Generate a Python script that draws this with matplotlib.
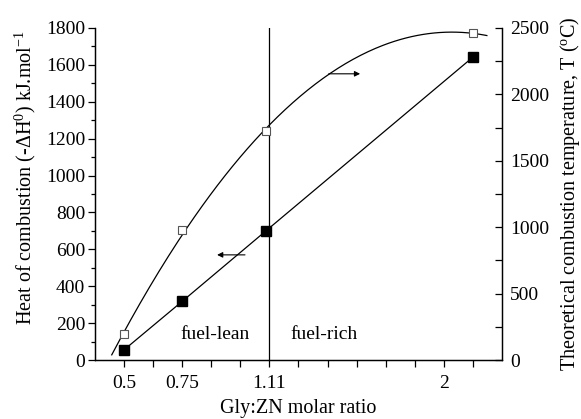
import numpy as np
import matplotlib
matplotlib.use("Agg")
import matplotlib.pyplot as plt
from matplotlib.ticker import MultipleLocator

plt.rcParams['font.family'] = ['Liberation Serif', 'DejaVu Serif']
plt.rcParams['mathtext.fontset'] = 'custom'
plt.rcParams['mathtext.rm'] = 'Liberation Serif'
plt.rcParams['mathtext.it'] = 'Liberation Serif:italic'

# Gly:ZN molar ratios
ratio = [0.5, 0.75, 1.11, 2.0]
# heat of combustion, kJ/mol (left axis)
heat = [55, 318, 700, 1642]
# theoretical combustion temperature, degC (right axis)
temp = [194, 978, 1722, 2462]

xtick_pos = [0.5, 0.625, 0.75, 0.875, 1.0, 1.125, 1.25, 1.375, 1.5, 1.625, 1.75, 1.875, 2.0]
xtick_lbl = ["0.5", "", "0.75", "", "", "1.11", "", "", "", "", "", "2", ""]
stoich = 1.125

fig = plt.figure(figsize=(5.81, 4.19), dpi=100)
ax = fig.add_axes([0.1635, 0.1408, 0.7005, 0.7924])
ax2 = ax.twinx()

# heat of combustion: straight segments between points
ax.plot(ratio, heat, color='black', lw=0.9, marker='s', ms=6.5,
        mfc='black', mec='black')

# temperature: quadratic trend through the open squares
coef = np.polyfit(ratio, temp, 2)
xf = np.linspace(0.447, 2.06, 200)
ax2.plot(xf, np.polyval(coef, xf), color='black', lw=0.9)
ax2.plot(ratio, temp, ls='none', marker='s', ms=5.5, mfc='white',
         mec='#555555', mew=0.8)

ax.axvline(stoich, color='black', lw=0.9)

ax.set_xlim(0.375, 2.125)
ax.set_ylim(0, 1800)
ax2.set_ylim(0, 2500)

ax.set_xticks(xtick_pos)
ax.set_xticklabels(xtick_lbl)
ax.yaxis.set_major_locator(MultipleLocator(200))
ax.yaxis.set_minor_locator(MultipleLocator(100))
ax2.yaxis.set_major_locator(MultipleLocator(500))
ax2.yaxis.set_minor_locator(MultipleLocator(250))

ax.tick_params(axis='x', direction='out', length=5, width=0.9, labelsize=14, pad=6)
ax.tick_params(axis='y', which='major', direction='out', length=5, width=0.9, labelsize=14, pad=2)
ax.tick_params(axis='y', which='minor', direction='out', length=3, width=0.9)
ax2.tick_params(axis='y', which='major', direction='in', length=5, width=0.9, labelsize=14, pad=6)
ax2.tick_params(axis='y', which='minor', direction='in', length=5, width=0.9)

for a in (ax, ax2):
    a.spines['top'].set_visible(False)
    for s in ('left', 'right', 'bottom'):
        a.spines[s].set_linewidth(0.9)

ax.set_xlabel('Gly:ZN molar ratio', fontsize=14.5, labelpad=5)
ax.set_ylabel(r'Heat of combustion (-$\Delta$H$^0$) kJ.mol$^{-1}$', fontsize=14.5)
ax.yaxis.set_label_coords(-0.14, 0.55)
ax2.set_ylabel(r'Theoretical combustion temperature, T ($^{\rm o}$C)', fontsize=14.5, labelpad=6)

# direction arrows pointing at the axis each curve belongs to
ax.annotate('', xy=(0.90, 570), xytext=(1.02, 570),
            arrowprops=dict(arrowstyle='-|>', color='black', lw=0.8,
                            mutation_scale=8, shrinkA=0, shrinkB=0))
ax2.annotate('', xy=(1.515, 2155), xytext=(1.38, 2155),
             arrowprops=dict(arrowstyle='-|>', color='black', lw=0.8,
                             mutation_scale=8, shrinkA=0, shrinkB=0))

ax.text(0.89, 140, 'fuel-lean', fontsize=14, ha='center', va='center')
ax.text(1.36, 140, 'fuel-rich', fontsize=14, ha='center', va='center')

fig.savefig('out.png', dpi=100)
